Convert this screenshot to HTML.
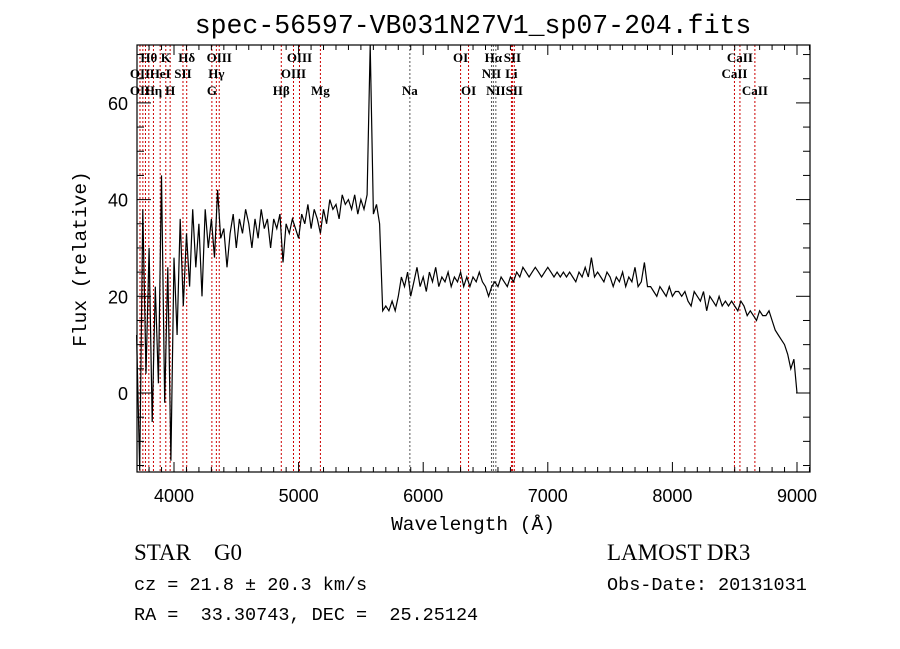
<!DOCTYPE html>
<html><head><meta charset="utf-8"><style>
body{margin:0;background:#fff}
svg{display:block}
.pre{white-space:pre}
</style></head><body>
<svg width="900" height="649" viewBox="0 0 900 649" xmlns="http://www.w3.org/2000/svg">
<rect width="900" height="649" fill="#fff"/>
<text x="473" y="33" text-anchor="middle" font-family="Liberation Mono, monospace" font-size="26.5">spec-56597-VB031N27V1_sp07-204.fits</text>
<g id="lines"></g>
<g id="labels" font-family="Liberation Serif, DejaVu Serif, serif" font-size="13" font-weight="bold"></g>
<path id="spec" fill="none" stroke="#000" stroke-width="1.2"/>
<g id="axes"></g>
<text x="473" y="530" text-anchor="middle" font-family="Liberation Mono, monospace" font-size="19.5">Wavelength (Å)</text>
<text transform="translate(86,259) rotate(-90)" text-anchor="middle" font-family="Liberation Mono, monospace" font-size="19.5">Flux (relative)</text>
<text class="pre" x="134" y="560" font-family="Liberation Serif, serif" font-size="23">STAR    G0</text>
<text x="607" y="560" font-family="Liberation Serif, serif" font-size="23">LAMOST DR3</text>
<text class="pre" x="134" y="590" font-family="Liberation Mono, monospace" font-size="18.5">cz = 21.8 ± 20.3 km/s</text>
<text x="607" y="590" font-family="Liberation Mono, monospace" font-size="18.5">Obs-Date: 20131031</text>
<text class="pre" x="134" y="620" font-family="Liberation Mono, monospace" font-size="18.5">RA =  33.30743, DEC =  25.25124</text>
</svg>
<script>
const waveStart = 3700;
const waveStep = 25;
const flux = [12,-16,38,4,30,-6,22,2,45,-2,26,-14,28,
12,36,18,33,22,38,26,35,20,38,30,36,
28,42,32,34,26,33,37,30,36,33,38,35,30,36,32,38,34,36,30,36,34,37,27,35,33,36,34,32,37,35,39,34,38,36,33,38,35,40,38,39,36,41,39,40,38,41,37,40,38,41,72,37,39,35,17,18,17,19,17,20,24,22,25,20,23,26,22,24,21,25,23,26,22,24,23,25,22,24,23,25,22,24,22,24,23,25,23,22,20,22,23,22,24,23,22,24,23,25,24,26,25,24,25,26,25,24,25,26,25,24,25,24,25,24,25,24,23,25,24,26,24,28,24,25,24,23,25,24,22,24,23,25,22,24,23,26,22,23,27,22,22,21,20,22,21,20,22,20,21,21,20,21,19,18,21,20,19,21,17,20,19,18,20,18,19,18,19,18,17,19,18,16,17,16,15,17,16,16,17,15,13,12,11,10,8,5,7,0];
const lineWaves = [3727,3750,3771,3798,3835,3889,3934,3969,4072,4102,4304,4340,4363,4861,4959,5007,5175,5893,6300,6364,6548,6563,6583,6708,6716,6731,8498,8542,8662];
const lineColors = ["#c00","#c00","#c00","#c00","#c00","#c00","#c00","#c00","#c00","#c00","#c00","#c00","#c00","#c00","#c00","#c00","#c00","#555","#c00","#c00","#555","#555","#555","#c00","#c00","#c00","#c00","#c00","#c00"];
const labelText = ["Hθ","K","Hδ","OIII","OIII","OI","Hα","SII","CaII","OII","HeI","SII","Hγ","OIII","NII","Li","CaII","OII","Hη","H","G","Hβ","Mg","Na","OI","NII","SII","CaII"];
const labelWave = [3798,3934,4102,4363,5007,6300,6563,6716,8542,3727,3889,4072,4340,4959,6548,6708,8498,3727,3835,3969,4304,4861,5175,5893,6364,6583,6731,8662];
const labelRow = [0,0,0,0,0,0,0,0,0,1,1,1,1,1,1,1,1,2,2,2,2,2,2,2,2,2,2,2];
const xTicks = [4000,5000,6000,7000,8000,9000];
const yTicks = [0,20,40,60];

const L=137,R=810,T=45,B=472;
const xs = w => 174 + (w-4000)*0.12460;
const ys = f => 393 - f*4.835;
const NS="http://www.w3.org/2000/svg";
function mk(tag,attrs,parent){const e=document.createElementNS(NS,tag);for(const k in attrs)e.setAttribute(k,attrs[k]);parent.appendChild(e);return e;}

const lg=document.getElementById('lines');
lineWaves.forEach((w,i)=>{
  const e=mk('line',{x1:xs(w),x2:xs(w),y1:T,y2:B,stroke:lineColors[i],'stroke-width':1,'stroke-dasharray':'2,2'},lg);
  
  
});
const lb=document.getElementById('labels');
const rowY=[62,78,95];
labelText.forEach((t,i)=>{
  const e=mk('text',{x:xs(labelWave[i]),y:rowY[labelRow[i]],'text-anchor':'middle'},lb);
  e.textContent=t;
  
  
});
let d='';
flux.forEach((f,i)=>{
  const x=xs(waveStart+i*waveStep);
  let y=ys(f); y=Math.max(T,Math.min(B,y));
  d+=(i?'L':'M')+x.toFixed(1)+' '+y.toFixed(1);
});
document.getElementById('spec').setAttribute('d',d);

const ax=document.getElementById('axes');
const fr=mk('rect',{x:L,y:T,width:R-L,height:B-T,fill:'none',stroke:'#000','stroke-width':1.2},ax);


for(let w=3800;w<=9100;w+=100){
  const x=xs(w); if(x<L||x>R)continue;
  const len = w%1000===0?10:5;
  mk('line',{x1:x,x2:x,y1:B,y2:B-len,stroke:'#000'},ax);
  mk('line',{x1:x,x2:x,y1:T,y2:T+len,stroke:'#000'},ax);
}
xTicks.forEach(w=>{
  const e=mk('text',{x:xs(w),y:502,'text-anchor':'middle','font-family':'Liberation Sans, sans-serif','font-size':18},ax);
  e.textContent=w;
  
  
});
for(let f=-15;f<=70;f+=5){
  const y=ys(f); if(y<T||y>B)continue;
  const len=f%20===0?14:7;
  mk('line',{x1:L,x2:L+len,y1:y,y2:y,stroke:'#000'},ax);
  mk('line',{x1:R,x2:R-len,y1:y,y2:y,stroke:'#000'},ax);
}
yTicks.forEach(f=>{
  const e=mk('text',{x:128,y:ys(f)+7,'text-anchor':'end','font-family':'Liberation Sans, sans-serif','font-size':18},ax);
  e.textContent=f;
  
  
});
</script>
</body></html>
